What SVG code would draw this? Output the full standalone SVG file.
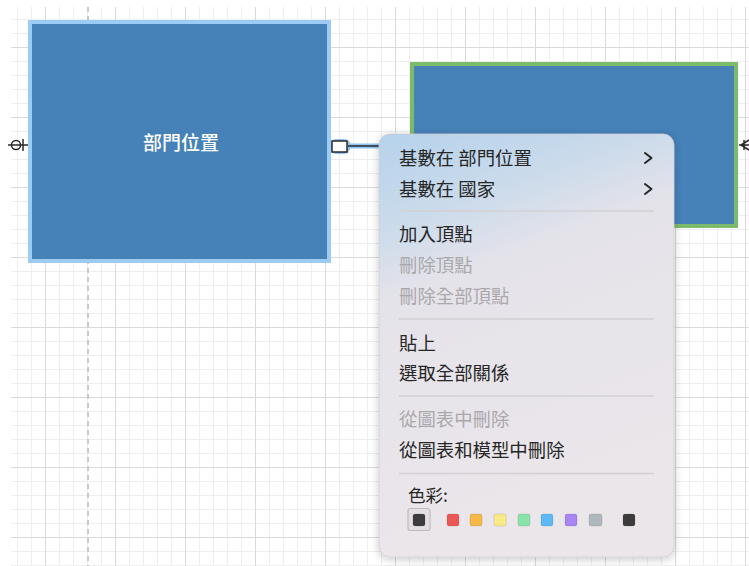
<svg xmlns="http://www.w3.org/2000/svg" width="749" height="566" viewBox="0 0 749 566">
<defs>
<pattern id="minor" x="3" y="5" width="14" height="14" patternUnits="userSpaceOnUse">
<path d="M0 0.5H14M0.5 0V14" stroke="#EEEEEE" stroke-width="1" fill="none"/>
</pattern>
<pattern id="major" x="45" y="47" width="70" height="70" patternUnits="userSpaceOnUse">
<path d="M0 0.5H70M0.5 0V70" stroke="#DADADA" stroke-width="1" fill="none"/>
</pattern>
<linearGradient id="menuBg" x1="0" y1="0" x2="0.25" y2="1">
<stop offset="0" stop-color="#B6D2EC"/>
<stop offset="0.2" stop-color="#C9DAEB"/>
<stop offset="0.38" stop-color="#E5E3EA"/>
<stop offset="1" stop-color="#EBE6EA"/>
</linearGradient>
<filter id="shadow" x="-10%" y="-10%" width="120%" height="120%">
<feDropShadow dx="0" dy="2" stdDeviation="4" flood-color="#000" flood-opacity="0.22"/>
</filter>
<style>
.node-fill{fill:#4682B8}
.lbl{font-family:"Noto Sans CJK TC","Noto Sans CJK SC",sans-serif;font-size:18.4px}
.item{fill:#262626}
.dis{fill:#ABA8AB}
.sep{stroke:#D3D0D4;stroke-width:1.5}
.sw{stroke:rgba(0,0,0,0.12);stroke-width:0.8}
.conn{stroke:#2A2A2A;stroke-width:1.5;fill:none}
</style>
</defs>
<rect width="749" height="566" fill="#FFFFFF"/>
<rect x="11" y="7" width="738" height="559" fill="url(#minor)"/>
<rect x="11" y="7" width="738" height="559" fill="url(#major)"/>
<line x1="88" y1="7" x2="88" y2="566" stroke="#C9C9C9" stroke-width="2" stroke-dasharray="5,4"/>

<g id="connectors">
<line x1="344" y1="146" x2="400" y2="146" stroke="#8EC3F2" stroke-width="5"/>
<rect x="330" y="139" width="20" height="15" rx="6" fill="#8EC3F2"/>
<circle cx="345" cy="146" r="6" fill="#8EC3F2"/>
<line class="conn" x1="348" y1="146" x2="400" y2="146"/>
<rect x="332" y="141" width="15" height="11" fill="#FFFFFF" stroke="#2A2A2A" stroke-width="1.5"/>
<line class="conn" x1="8" y1="145" x2="29" y2="145"/>
<circle class="conn" cx="16" cy="145" r="4.5"/>
<line class="conn" x1="23" y1="139" x2="23" y2="151"/>
<path class="conn" d="M739 145H749M741 145L749 140M741 145L749 150M744 140V150"/>
</g>

<g id="node-dept">
<rect x="30" y="22" width="299" height="239" class="node-fill" stroke="#9CCBF5" stroke-width="4"/>
<text x="181" y="149.5" text-anchor="middle" class="lbl" fill="#FFFFFF" font-weight="500" style="font-size:19px">部門位置</text>
</g>

<g id="node-country">
<rect x="412" y="64" width="324" height="162" class="node-fill" stroke="#7CBB6A" stroke-width="4"/>
</g>

<g id="menu">
<rect x="379" y="134" width="295" height="423" rx="11" fill="url(#menuBg)" filter="url(#shadow)" stroke="#CFCBD0" stroke-width="0.8"/>
<text x="399" y="164.5" class="lbl item">基數在 部門位置</text>
<text x="399" y="195.5" class="lbl item">基數在 國家</text>
<path d="M645 153L651.5 158L645 163" fill="none" stroke="#262626" stroke-width="2" stroke-linecap="round" stroke-linejoin="round"/>
<path d="M645 184L651.5 189L645 194" fill="none" stroke="#262626" stroke-width="2" stroke-linecap="round" stroke-linejoin="round"/>
<line class="sep" x1="399" y1="211" x2="654" y2="211"/>
<text x="399" y="241" class="lbl item">加入頂點</text>
<text x="399" y="272" class="lbl dis">刪除頂點</text>
<text x="399" y="303" class="lbl dis">刪除全部頂點</text>
<line class="sep" x1="399" y1="319" x2="654" y2="319"/>
<text x="399" y="349.5" class="lbl item">貼上</text>
<text x="399" y="380" class="lbl item">選取全部關係</text>
<line class="sep" x1="399" y1="396" x2="654" y2="396"/>
<text x="399" y="426" class="lbl dis">從圖表中刪除</text>
<text x="399" y="457" class="lbl item">從圖表和模型中刪除</text>
<line class="sep" x1="399" y1="473.5" x2="654" y2="473.5"/>
<text x="408" y="501.5" class="lbl item" style="font-size:17.5px">色彩:</text>
<rect x="408" y="508.5" width="22" height="22" rx="2.5" fill="#E4DFE3" stroke="#BEBBBE" stroke-width="1.2"/>
<rect class="sw" x="413" y="514" width="12" height="12" rx="2" fill="#3D3D3D"/>
<rect class="sw" x="447" y="514" width="12" height="12" rx="2" fill="#EB5757"/>
<rect class="sw" x="470" y="514" width="12" height="12" rx="2" fill="#F5BA45"/>
<rect class="sw" x="494" y="514" width="12" height="12" rx="2" fill="#F8EA86"/>
<rect class="sw" x="518" y="514" width="12" height="12" rx="2" fill="#88E2AA"/>
<rect class="sw" x="541" y="514" width="12" height="12" rx="2" fill="#5DB9F6"/>
<rect class="sw" x="565" y="514" width="12" height="12" rx="2" fill="#A786F1"/>
<rect class="sw" x="589" y="514" width="13" height="12" rx="2" fill="#AFB7BD"/>
<rect class="sw" x="623" y="514" width="12" height="12" rx="2" fill="#3D3D3D"/>
</g>
</svg>
